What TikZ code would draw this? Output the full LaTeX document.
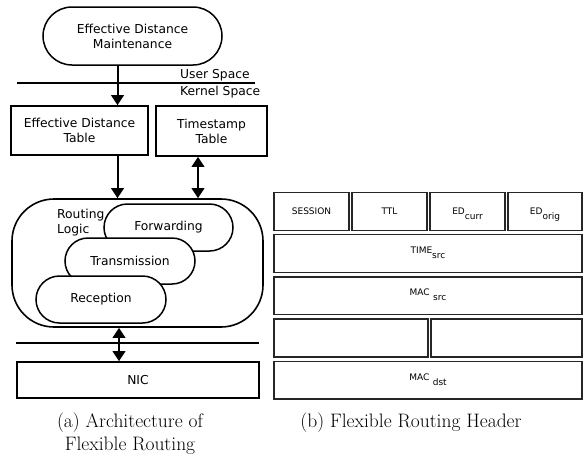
\documentclass[tikz,border=0pt]{standalone}
\usepackage{fontspec}
\newfontfamily\dvsans{DejaVu Sans}
\usetikzlibrary{arrows.meta}
\newcommand{\lsub}[1]{\raisebox{-5pt}{#1}}
\begin{document}
\begin{tikzpicture}[x=1pt,y=-1pt,
  mainfont/.style={font=\dvsans\fontsize{12.3pt}{15pt}\selectfont},
  hdrfont/.style={font=\dvsans\fontsize{9pt}{11pt}\selectfont},
  pill/.style={draw, line width=1.5pt, fill=white, rounded corners=#1, inner sep=0pt, mainfont},
  boxnode/.style={draw, line width=1.6pt, inner sep=0pt, align=center, mainfont},
  hdr/.style={draw=black!85, line width=1.3pt, inner sep=0pt, outer sep=0pt, anchor=north west, minimum height=37.8pt, hdrfont},
  hdrA/.style={hdr, text height=8pt, text depth=2pt},
  hdrB/.style={hdr, text height=6pt, text depth=6pt},
  arr/.style={line width=2pt, -{Triangle[length=10pt,width=12.5pt]}},
  darr/.style={line width=2pt, {Triangle[length=10pt,width=12.5pt]}-{Triangle[length=10pt,width=12.5pt]}},
  sepline/.style={line width=2pt},
  capfont/.style={font=\fontsize{19.5pt}{23.4pt}\selectfont}
]
\useasboundingbox (0,0) rectangle (583,458);

% ---------- (a) architecture ----------
\node[pill=29pt, minimum width=179pt, minimum height=58pt, align=center] (edm) at (132.5,36) {Effective Distance\\Maintenance};

\coordinate (l1a) at (17,83);
\coordinate (l1b) at (255,83);
\draw[sepline] (l1a) -- (l1b);
\node[mainfont, anchor=west, inner sep=0pt] (user) at (180,75) {User Space};
\node[mainfont, anchor=west, inner sep=0pt] (kern) at (180,92) {Kernel Space};

\node[boxnode, minimum width=137pt, minimum height=49pt] (edt) at (79.5,130.5) {Effective Distance\\Table};
\node[boxnode, minimum width=111pt, minimum height=50pt] (tst) at (211.5,131) {Timestamp\\Table};

\node[draw, line width=1.6pt, rounded corners=42pt, minimum width=251pt, minimum height=128pt] (rl) at (137.5,263) {};
\node[mainfont, anchor=west, align=left, inner sep=0pt] (rlt) at (57,222.6) {Routing\\Logic};

\node[pill=23.5pt, minimum width=129pt, minimum height=47pt] (fwd) at (168.5,227.5) {Forwarding};
\node[pill=23pt, minimum width=130pt, minimum height=46pt] (trx) at (130,261) {Transmission};
\node[pill=23.5pt, minimum width=130pt, minimum height=47pt] (rcp) at (101,299.5) {Reception};

\coordinate (l2a) at (16,343);
\coordinate (l2b) at (259,343);
\draw[sepline] (l2a) -- (l2b);

\node[boxnode, minimum width=242pt, minimum height=36pt] (nic) at (138,380) {NIC};

\coordinate (ax1) at (117.5,0);
\coordinate (ax2) at (198,0);
\coordinate (ax3) at (119,0);
\draw[arr] (edm.south -| ax1) -- (edt.north -| ax1);
\draw[arr] (edt.south -| ax1) -- (rl.north -| ax1);
\draw[darr] (tst.south -| ax2) -- (rl.north -| ax2);
\draw[darr] (rl.south -| ax3) -- (nic.north -| ax3);

% ---------- (b) header ----------
\node[hdrA, minimum width=75pt] (sess) at (274,192.5) {SESSION};
\node[hdrA, minimum width=75pt] (ttl) at (352,192.5) {TTL};
\node[hdrA, minimum width=75pt] (edc) at (430,192.5) {ED\lsub{curr}};
\node[hdrA, minimum width=74pt] (edo) at (508,192.5) {ED\lsub{orig}};

\node[hdrB, minimum width=308pt] (tsrc) at (274,234.7) {TIME\lsub{src}};
\node[hdrB, minimum width=308pt] (msrc) at (274,276.9) {MAC\hspace{3.5pt}\lsub{src}};
\node[hdrB, minimum width=154pt] (emp1) at (274,319.1) {};
\node[hdrB, minimum width=151pt] (emp2) at (431,319.1) {};
\node[hdrB, minimum width=308pt] (mdst) at (274,361.3) {MAC\hspace{3.5pt}\lsub{dst}};

% ---------- captions ----------
\node[capfont, align=center, anchor=north, inner sep=0pt] (capa) at (130,412.5) {(a) Architecture of\\Flexible Routing};
\node[capfont, anchor=north, inner sep=0pt] (capb) at (411,412.5) {(b) Flexible Routing Header};
\end{tikzpicture}
\end{document}
